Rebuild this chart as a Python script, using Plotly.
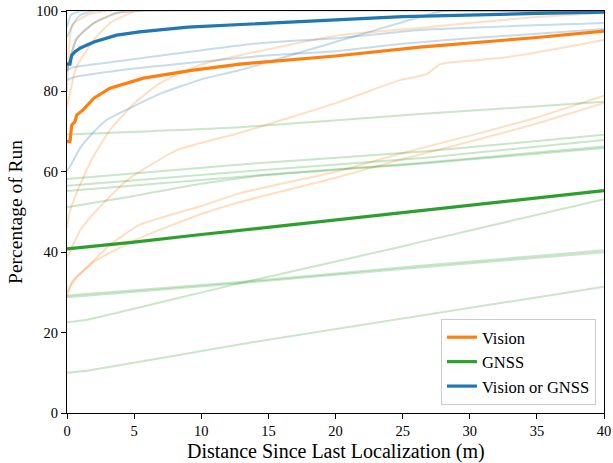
import plotly.graph_objects as go

# ---- aggregated curves ----
vision_x = [0, 0.22, 0.35, 0.6, 0.72, 1.2, 2, 3.2, 5.7, 9.4, 12.9, 20, 26.3, 30, 35, 40]
vision_y = [67.5, 67.5, 71.6, 72.5, 74.1, 75.4, 78.3, 80.8, 83.3, 85.3, 86.8, 88.8, 91.0, 92.0, 93.4, 95.0]

gnss_x = [0, 5, 10, 15, 20, 25, 30, 35, 40]
gnss_y = [40.8, 42.5, 44.4, 46.2, 48.0, 49.9, 51.7, 53.5, 55.3]

either_x = [0, 0.22, 0.35, 0.6, 1, 2, 3.7, 5.4, 9, 14.4, 20, 25, 30, 35, 40]
either_y = [86.8, 86.8, 89.0, 89.9, 90.8, 92.3, 94.0, 94.8, 96.0, 96.8, 97.8, 98.6, 99.1, 99.4, 99.7]

# ---- individual Vision runs (faint orange) ----
v1_x = [0, 0.4, 1.5, 3, 40]
v1_y = [80, 96.5, 99, 100, 100]
v2_x = [0, 0.7, 2, 3.2, 5.2, 40]
v2_y = [76, 86, 92.8, 97, 100, 100]
v3_x = [0, 0.7, 2, 3.7, 5, 40]
v3_y = [85, 93, 97, 99.5, 100, 100]
v4_x = [0, 0.2, 1, 2, 3.2, 5, 6.9, 9.9, 12.9, 20.3, 26.3, 30, 35, 40]
v4_y = [46, 50, 57, 64, 70.4, 77, 82, 86.6, 89, 94, 95.8, 97, 98.5, 99.5]
v5_x = [0, 0.2, 1, 2, 4.5, 8.2, 12.9, 20.3, 24.8, 26.8, 27.8, 32.3, 36, 40]
v5_y = [38.8, 40, 45.5, 49.7, 58, 65.4, 69.7, 77.4, 82.8, 84.3, 86.8, 88.3, 90.3, 92.8]
v6_x = [0, 0.45, 1.5, 3.2, 5.4, 10, 12.9, 20, 24.8, 30, 35, 40]
v6_y = [30, 33, 36.3, 41.8, 46.8, 51.5, 54.7, 60, 64.5, 69, 73.5, 78.9]
v7_x = [0, 0.3, 0.7, 2, 5.4, 10, 12.9, 20, 24.8, 30, 35, 40]
v7_y = [29, 31.8, 33.6, 37.6, 43.5, 49.5, 52.5, 58.5, 63, 67.5, 72, 77.1]

# ---- individual GNSS runs (faint green) ----
g1_x = [0, 12.9, 26.3, 40]
g1_y = [69.3, 71.1, 74.4, 77.4]
g2_x = [0, 14.4, 26.3, 40]
g2_y = [58.2, 62.2, 65.0, 69.2]
g3_x = [0, 14.4, 26.3, 40]
g3_y = [56.5, 60.4, 63.4, 67.9]
g4_x = [0, 14.4, 26.3, 40]
g4_y = [55.2, 59.2, 62.2, 66.3]
g5_x = [0, 5, 10, 14.4, 26.3, 40]
g5_y = [51.2, 54, 57, 59, 62, 65.9]
g6_x = [0, 12.9, 26.3, 40]
g6_y = [29.2, 32.6, 36.6, 40.5]
g7_x = [0, 12.9, 26.3, 40]
g7_y = [28.8, 32.3, 36.2, 40.0]
g8_x = [0, 1.5, 12.9, 24.8, 26.3, 40]
g8_y = [22.6, 23.2, 32.3, 41.3, 42.5, 53.2]
g9_x = [0, 1.5, 13.8, 40]
g9_y = [10, 10.5, 17.6, 31.4]

# ---- individual Vision-or-GNSS runs (faint blue) ----
b1_x = [0, 0.5, 1, 2, 40]
b1_y = [93.5, 97, 99, 100, 100]
b2_x = [0, 0.3, 1, 40]
b2_y = [96, 99, 100, 100]
b3_x = [0, 0.7, 2, 3.7, 5, 40]
b3_y = [85, 93, 97, 99.5, 100, 100]
b4_x = [0, 0.2, 1, 1.9, 3, 5.4, 7, 10, 12.9, 20.3, 26.3, 28, 40]
b4_y = [60.2, 61.2, 66, 69.6, 73, 77, 79.5, 83, 85.3, 92.6, 98.5, 100, 100]
b5_x = [0, 0.5, 4.5, 14.4, 20.3, 26.3, 40]
b5_y = [85.3, 86, 87.8, 92, 93.3, 95.3, 97]
b6_x = [0, 0.5, 4.5, 14.4, 20, 24.8, 30, 40]
b6_y = [82.8, 83.5, 85.5, 88.8, 90, 91.8, 93.2, 95.5]

x_ticks = [0, 5, 10, 15, 20, 25, 30, 35, 40]
y_ticks = [0, 20, 40, 60, 80, 100]

ORANGE = "#ff7f0e"
GREEN = "#2ca02c"
BLUE = "#1f77b4"
SERIF = "Liberation Serif"

vision_runs = [(v1_x, v1_y), (v2_x, v2_y), (v3_x, v3_y), (v4_x, v4_y),
               (v5_x, v5_y), (v6_x, v6_y), (v7_x, v7_y)]
gnss_runs = [(g1_x, g1_y), (g2_x, g2_y), (g3_x, g3_y), (g4_x, g4_y), (g5_x, g5_y),
             (g6_x, g6_y), (g7_x, g7_y), (g8_x, g8_y), (g9_x, g9_y)]
either_runs = [(b1_x, b1_y), (b2_x, b2_y), (b3_x, b3_y), (b4_x, b4_y),
               (b5_x, b5_y), (b6_x, b6_y)]

fig = go.Figure()

for runs, col in [(vision_runs, ORANGE), (gnss_runs, GREEN), (either_runs, BLUE)]:
    for xs, ys in runs:
        fig.add_trace(go.Scatter(x=xs, y=ys, mode="lines",
                                 line=dict(color=col, width=2, shape="spline", smoothing=0.5),
                                 opacity=0.25, showlegend=False,
                                 hoverinfo="skip"))

fig.add_trace(go.Scatter(x=vision_x, y=vision_y, mode="lines", name="Vision",
                         line=dict(color=ORANGE, width=3.2)))
fig.add_trace(go.Scatter(x=gnss_x, y=gnss_y, mode="lines", name="GNSS",
                         line=dict(color=GREEN, width=3.2)))
fig.add_trace(go.Scatter(x=either_x, y=either_y, mode="lines", name="Vision or GNSS",
                         line=dict(color=BLUE, width=3.2)))

axis_common = dict(showgrid=False, zeroline=False, showline=True, linecolor="black",
                   linewidth=1, mirror=True, ticks="outside", ticklen=5, tickwidth=1,
                   tickcolor="black", automargin=False,
                   tickfont=dict(family=SERIF, size=14.5, color="black"))

fig.update_xaxes(range=[0, 40], tickvals=x_ticks, **axis_common)
fig.update_yaxes(range=[0, 100], tickvals=y_ticks, **axis_common)

fig.add_annotation(text="Distance Since Last Localization (m)", xref="paper", yref="paper",
                   x=0.5, y=-0.097, xanchor="center", yanchor="middle", showarrow=False,
                   font=dict(family=SERIF, size=20, color="black"))
fig.add_annotation(text="Percentage of Run", xref="paper", yref="paper",
                   x=-0.097, y=0.5, xanchor="center", yanchor="middle", showarrow=False,
                   textangle=-90, font=dict(family=SERIF, size=19.5, color="black"))

fig.update_layout(
    width=613, height=463,
    margin=dict(l=67, r=9, t=11, b=50),
    paper_bgcolor="white", plot_bgcolor="white",
    font=dict(family=SERIF, color="black"),
    legend=dict(x=0.985, y=0.02, xanchor="right", yanchor="bottom",
                bgcolor="rgba(255,255,255,0.8)", bordercolor="#cccccc", borderwidth=1,
                font=dict(family=SERIF, size=16.5, color="black"),
                tracegroupgap=0, itemwidth=30),
)

fig.write_html("out.html", config={"displayModeBar": False},
               post_script="document.body.style.margin='0';")
